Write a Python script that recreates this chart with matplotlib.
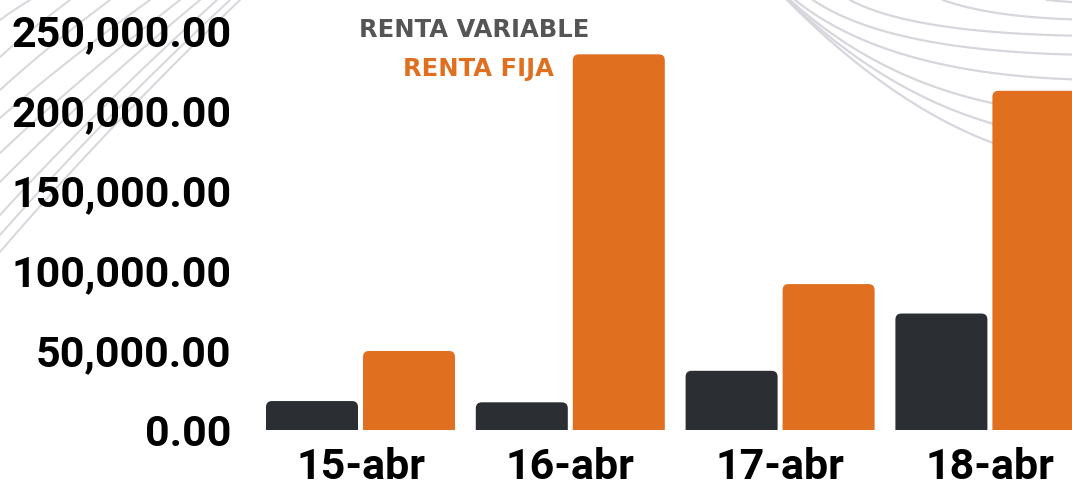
import numpy as np
import matplotlib
matplotlib.use("Agg")
import matplotlib.pyplot as plt
from matplotlib.patches import FancyBboxPatch
from matplotlib.ticker import FuncFormatter, MultipleLocator

# ---- data ----
categories = ["15-abr", "16-abr", "17-abr", "18-abr"]
renta_variable = [18100, 17300, 37000, 72800]
renta_fija = [49400, 234800, 91200, 212000]
series_labels = ["RENTA VARIABLE", "RENTA FIJA"]

DARK = "#2b2f33"
ORANGE = "#e0701f"
LINE = "#d6d6dd"
FONT = "Roboto"

W, H = 1072, 484
fig = plt.figure(figsize=(W / 100, H / 100), dpi=100)

# ---- decorative background (pixel coordinates) ----
bg = fig.add_axes([0, 0, 1, 1], zorder=0)
bg.set_xlim(0, W)
bg.set_ylim(H, 0)
bg.axis("off")

def bezier(p0, p1, p2, n=120):
    t = np.linspace(0, 1, n)[:, None]
    p0, p1, p2 = map(np.array, (p0, p1, p2))
    return (1 - t) ** 2 * p0 + 2 * (1 - t) * t * p1 + t ** 2 * p2

# diagonal fan at top-left
left_y = [20, 57, 90, 118, 153, 182, 215, 235, 252]
top_x = [30, 70, 110, 150, 180, 200, 217, 230, 240]
for y0, x1 in zip(left_y, top_x):
    pts = bezier((0, y0), (x1 * 0.45, y0 * 0.5), (x1, 0))
    bg.plot(pts[:, 0], pts[:, 1], color=LINE, lw=1.4, solid_capstyle="round")

# swooping curves at top-right
curves = [(787, 165), (788, 140), (790, 115), (795, 80), (813, 55),
          (850, 36), (943, 20), (1047, 4)]
for x0, yend in curves:
    pts = bezier((x0, 0), (x0 + 0.75 * yend + 40, yend), (1110, yend))
    bg.plot(pts[:, 0], pts[:, 1], color=LINE, lw=1.6)

# ---- main axes ----
left_px, right_px, base_px = 240, W, 430
ax = fig.add_axes([left_px / W, (H - base_px) / H, (right_px - left_px) / W, base_px / H], zorder=1)
ax.patch.set_alpha(0)

spacing = 209.8
x0c = 360.5
ax.set_xlim((left_px - x0c) / spacing, (right_px - x0c) / spacing)
ax.set_ylim(0, base_px / 1.6 * 1000)

x = np.arange(len(categories))
bw = 92 / spacing
off = 97 / 2 / spacing
b1 = ax.bar(x - off, renta_variable, bw, color=DARK, label=series_labels[0])
b2 = ax.bar(x + off, renta_fija, bw, color=ORANGE, label=series_labels[1])

# rounded top corners
fig.canvas.draw()
bbox = ax.get_window_extent()
xr = np.diff(ax.get_xlim())[0] / bbox.width
yr = np.diff(ax.get_ylim())[0] / bbox.height
aspect = yr / xr
r = 6 * xr
for bars, col in ((b1, DARK), (b2, ORANGE)):
    for rect in bars:
        bx, bwid, bh = rect.get_x(), rect.get_width(), rect.get_height()
        rect.set_visible(False)
        ext = 20000
        p = FancyBboxPatch((bx, -ext), bwid, bh + ext,
                           boxstyle=f"round,pad=0,rounding_size={r}",
                           mutation_aspect=aspect, fc=col, ec="none")
        ax.add_patch(p)

ax.yaxis.set_major_locator(MultipleLocator(50000))
ax.yaxis.set_major_formatter(FuncFormatter(lambda v, p: f"{v:,.2f}"))
ax.set_xticks(x)
ax.set_xticklabels(categories)
for s in ax.spines.values():
    s.set_visible(False)
ax.tick_params(axis="both", length=0)
ax.tick_params(axis="y", pad=6)
ax.tick_params(axis="x", pad=12)
for lab in ax.get_yticklabels() + ax.get_xticklabels():
    lab.set_fontfamily(FONT)
    lab.set_fontweight("bold")
    lab.set_fontsize(31)
    lab.set_color("#000000")

# legend as text
fig.text(474 / W, 1 - 30 / H, series_labels[0], ha="center", va="center",
         fontsize=17.5, fontweight="bold", color="#555555", family="DejaVu Sans")
fig.text(478 / W, 1 - 69 / H, series_labels[1], ha="center", va="center",
         fontsize=17.5, fontweight="bold", color=ORANGE, family="DejaVu Sans")

fig.savefig("out.png", dpi=100)
